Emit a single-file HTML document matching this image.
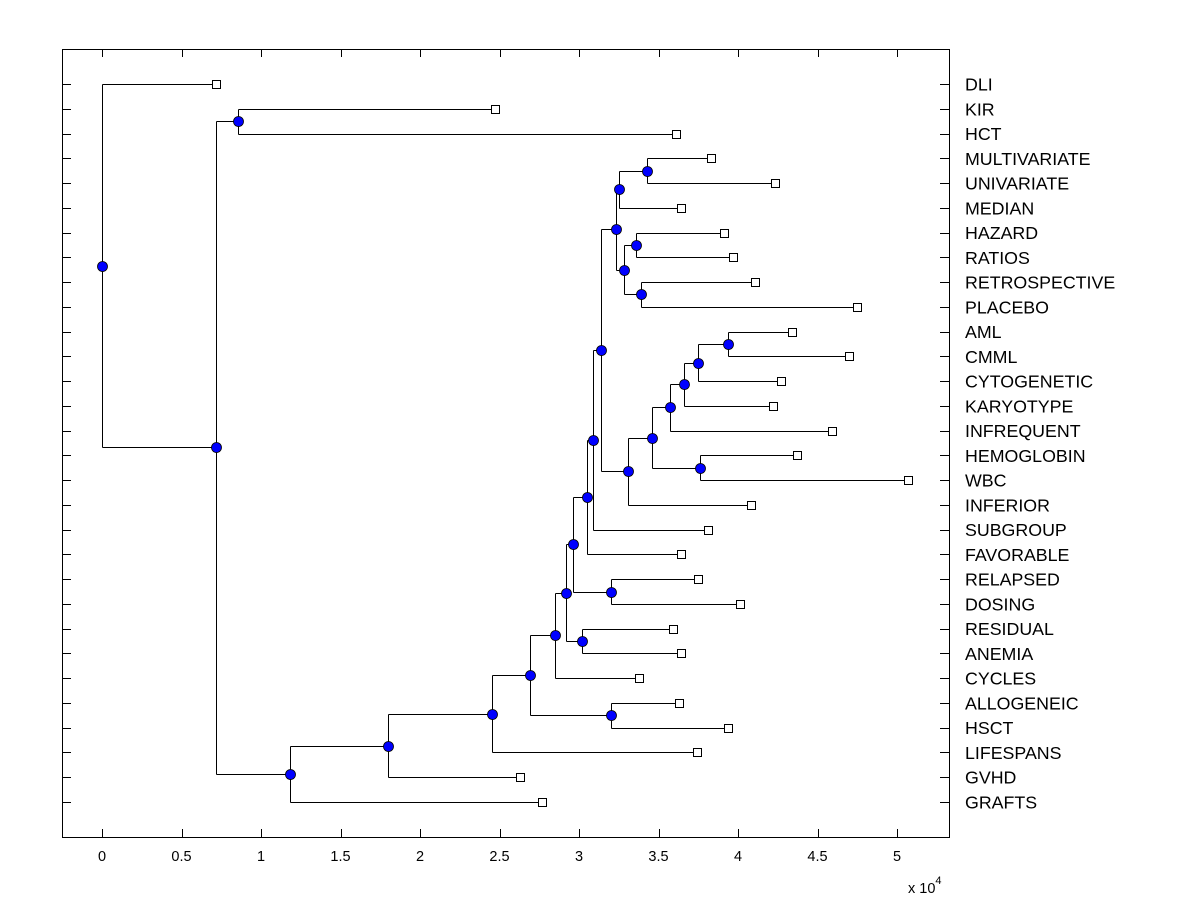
<!DOCTYPE html>
<html><head><meta charset="utf-8"><style>
body{margin:0;background:#fff;}
svg{display:block;font-family:"Liberation Sans",Arial,sans-serif;}
</style></head><body>
<svg id="chart" width="1200" height="900" viewBox="0 0 1200 900">
<rect x="0" y="0" width="1200" height="900" fill="#fff"/>
<g id="lines" shape-rendering="crispEdges"></g><g id="marks"></g><g id="axes"></g>
</svg>
<script>
const leafNames=["DLI","KIR","HCT","MULTIVARIATE","UNIVARIATE","MEDIAN","HAZARD","RATIOS","RETROSPECTIVE","PLACEBO","AML","CMML","CYTOGENETIC","KARYOTYPE","INFREQUENT","HEMOGLOBIN","WBC","INFERIOR","SUBGROUP","FAVORABLE","RELAPSED","DOSING","RESIDUAL","ANEMIA","CYCLES","ALLOGENEIC","HSCT","LIFESPANS","GVHD","GRAFTS"];
const leafHeights=[0.717,2.47,3.61,3.83,4.23,3.64,3.91,3.97,4.11,4.75,4.34,4.70,4.27,4.22,4.59,4.37,5.07,4.08,3.81,3.64,3.75,4.01,3.59,3.64,3.38,3.63,3.94,3.74,2.63,2.77];
const nodeNames=["root","A","B","Z","Y","X","W","U","V","T","R","S","P","Q","O","N","M","K","I","J","H","G","L","F","D","E","C","Bb","Aa"];
const nodeHeights=[0,0.717,0.855,1.18,1.80,2.45,2.69,3.20,2.85,2.92,3.02,2.96,3.20,3.05,3.09,3.14,3.23,3.25,3.43,3.28,3.36,3.39,3.31,3.46,3.76,3.57,3.66,3.75,3.94];
const nodeChildren=[["DLI","A"],["B","Z"],["KIR","HCT"],["Y","GRAFTS"],["X","GVHD"],["W","LIFESPANS"],["V","U"],["ALLOGENEIC","HSCT"],["T","CYCLES"],["S","R"],["RESIDUAL","ANEMIA"],["Q","P"],["RELAPSED","DOSING"],["O","FAVORABLE"],["N","SUBGROUP"],["M","L"],["K","J"],["I","MEDIAN"],["MULTIVARIATE","UNIVARIATE"],["H","G"],["HAZARD","RATIOS"],["RETROSPECTIVE","PLACEBO"],["F","INFERIOR"],["E","D"],["HEMOGLOBIN","WBC"],["C","INFREQUENT"],["Bb","KARYOTYPE"],["Aa","CYTOGENETIC"],["AML","CMML"]];
const xTicks=[0,0.5,1,1.5,2,2.5,3,3.5,4,4.5,5];
const xTickLabels=["0","0.5","1","1.5","2","2.5","3","3.5","4","4.5","5"];

const L=62,R=949,T=49,B=837;
const xs=v=>102+v*159;
const ys=i=>84+i*(802-84)/29;
const px5=v=>Math.round(v)+0.5;
const NS="http://www.w3.org/2000/svg";
function mk(tag,attrs,parent){const e=document.createElementNS(NS,tag);for(const k in attrs)e.setAttribute(k,attrs[k]);document.getElementById(parent).appendChild(e);return e;}
const pos={};
leafNames.forEach((n,i)=>{pos[n]={x:leafHeights[i],y:ys(i)};});
function getPos(n){
  if(pos[n])return pos[n];
  const k=nodeNames.indexOf(n);
  const c=nodeChildren[k].map(getPos);
  pos[n]={x:nodeHeights[k],y:(c[0].y+c[1].y)/2};
  return pos[n];
}
nodeNames.forEach(getPos);
nodeNames.forEach((n,k)=>{
  const p=pos[n];const c=nodeChildren[k].map(ch=>pos[ch]);
  const px=px5(xs(p.x));
  let e=mk("line",{x1:px,x2:px,y1:px5(Math.min(c[0].y,c[1].y)),y2:px5(Math.max(c[0].y,c[1].y)),stroke:"#000","stroke-width":1},"lines");
  
  
  c.forEach((cc,j)=>{
    let h=mk("line",{x1:px,x2:px5(xs(cc.x)),y1:px5(cc.y),y2:px5(cc.y),stroke:"#000","stroke-width":1},"lines");
    
    
  });
});
leafNames.forEach((n,i)=>{
  const p=pos[n];
  let s=mk("rect",{x:px5(xs(p.x))-4,y:px5(p.y)-4,width:8,height:8,fill:"#fff",stroke:"#000","stroke-width":1},"marks");
  
  
});
nodeNames.forEach(n=>{
  const p=pos[n];
  let c=mk("circle",{cx:px5(xs(p.x)),cy:px5(p.y),r:5,fill:"#0000ff",stroke:"#000","stroke-width":0.8},"marks");
  
  
});
let box=mk("rect",{x:L+0.5,y:T+0.5,width:R-L,height:B-T,fill:"none",stroke:"#000","stroke-width":1,"shape-rendering":"crispEdges"},"axes");


xTicks.forEach((v,i)=>{
  const x=px5(xs(v));
  let t1=mk("line",{x1:x,x2:x,y1:B,y2:B-8,stroke:"#000","shape-rendering":"crispEdges"},"axes");
  
  
  let t2=mk("line",{x1:x,x2:x,y1:T,y2:T+8,stroke:"#000","shape-rendering":"crispEdges"},"axes");
  
  
  let lb=mk("text",{x:xs(v),y:861,"font-size":14.5,"text-anchor":"middle"},"axes");
  lb.textContent=xTickLabels[i];
  
  
});
leafNames.forEach((n,i)=>{
  const y=px5(ys(i));
  let a=mk("line",{x1:L,x2:L+9,y1:y,y2:y,stroke:"#000","shape-rendering":"crispEdges"},"axes");
  
  
  let b=mk("line",{x1:R-9,x2:R,y1:y,y2:y,stroke:"#000","shape-rendering":"crispEdges"},"axes");
  
  
  let t=mk("text",{x:965,y:ys(i)+6.5,"font-size":17.8},"axes");
  t.textContent=n;
  
  
});
let ex=mk("text",{x:908,y:893,"font-size":14.5},"axes");
ex.innerHTML='x 10<tspan dy="-9" font-size="11">4</tspan>';


</script>
</body></html>
